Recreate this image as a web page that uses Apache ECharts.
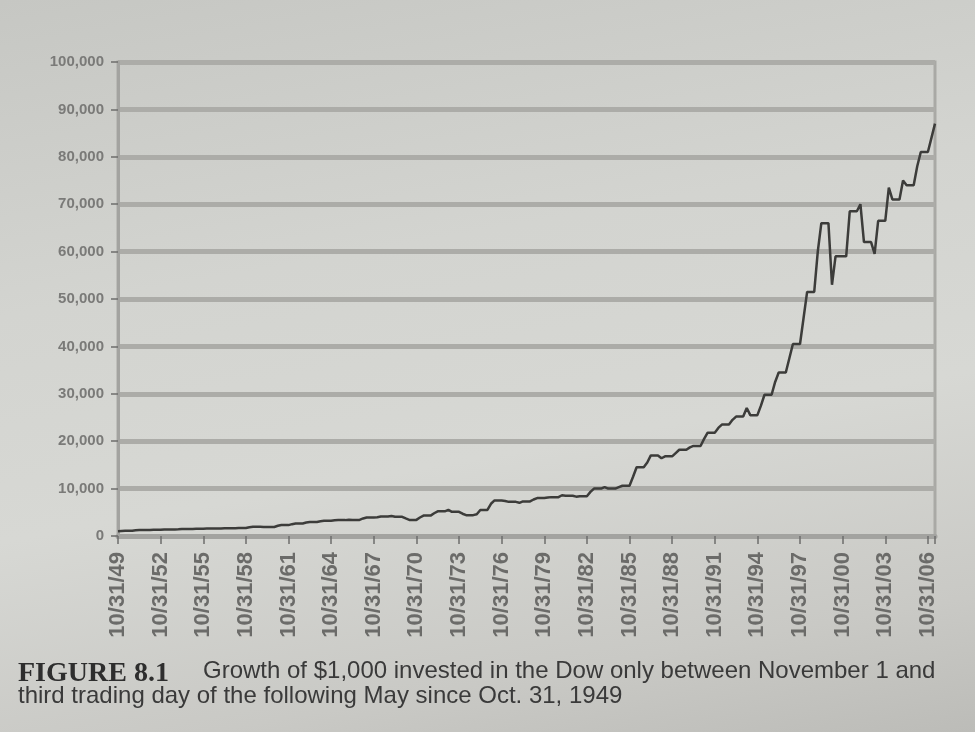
<!DOCTYPE html>
<html>
<head>
<meta charset="utf-8">
<script src="https://cdn.jsdelivr.net/npm/echarts@6/dist/echarts.min.js"></script>
<style>
html,body{margin:0;padding:0;}
body{width:975px;height:732px;background:linear-gradient(170deg,#c6c7c3 0%,#d3d4d0 35%,#d7d8d4 60%,#c9c9c5 85%,#bcbcb8 100%);}
#chart{width:975px;height:732px;}
</style>
</head>
<body>
<div id="chart"></div>
<script>
// Season k runs from Oct 31 of (1949+k) to the 3rd trading day of May (1950+k)
const startValue = 1000;
const seasonYears = [];
for (let y = 1949; y <= 2006; y++) seasonYears.push(y);
// value roughly mid-season (Feb)
const midValues = [1050,1200,1280,1380,1400,1500,1560,1580,1650,1850,
 1920,2150,2500,2850,3100,3300,3450,3700,3950,4200,
 3700,3900,4800,5500,4700,4600,6800,7400,7000,7700,
 8100,8600,8300,9300,10300,10300,12500,15500,16400,17500,
 18700,20500,22800,24500,27000,27500,32500,37500,46000,60000,
 53000,59000,70000,59500,73500,75000,78000,84000];
// value at the end of the season (May)
const endValues = [1100,1250,1300,1350,1480,1520,1600,1620,1700,1950,
 1900,2300,2650,2950,3200,3350,3400,3900,4100,4050,
 3400,4300,5200,5100,4400,5500,7500,7200,7300,8000,
 8200,8500,8400,10000,10000,10600,14500,17000,16800,18200,
 19000,21800,23500,25200,25500,29800,34500,40500,51500,66000,
 59000,68500,62000,66500,71000,74000,81000,87000];
const tickLabels = ['10/31/49','10/31/52','10/31/55','10/31/58','10/31/61','10/31/64','10/31/67','10/31/70','10/31/73','10/31/76',
 '10/31/79','10/31/82','10/31/85','10/31/88','10/31/91','10/31/94','10/31/97','10/31/00','10/31/03','10/31/06'];

// x = months since 10/31/49
const data = [];
let prev = startValue;
seasonYears.forEach((y, k) => {
  const m = k * 12;
  data.push([m, prev]);
  data.push([m + 3, midValues[k]]);
  data.push([m + 6, endValues[k]]);
  prev = endValues[k];
});

const chart = echarts.init(document.getElementById('chart'), null, {renderer: 'canvas'});
chart.setOption({
  animation: false,
  backgroundColor: 'transparent',
  grid: {left: 118, right: 40, top: 62, bottom: 196, show: true, borderColor: '#a9a9a5', borderWidth: 3, backgroundColor: 'transparent'},
  xAxis: {
    type: 'value', min: 0, max: 690, interval: 36,
    axisLine: {show: true, onZero: false, lineStyle: {color: '#a3a3a0', width: 5}},
    axisTick: {show: true, length: 8, lineStyle: {color: '#6e6e6c', width: 1.5}},
    splitLine: {show: false},
    axisLabel: {
      rotate: 90, margin: 16, color: '#6b6b69', fontSize: 22, fontWeight: 'bold',
      fontFamily: 'Liberation Sans Narrow, Liberation Sans, Arial, sans-serif',
      formatter: v => (v % 36 === 0 && tickLabels[v / 36]) ? tickLabels[v / 36] : ''
    }
  },
  yAxis: {
    type: 'value', min: 0, max: 100000, interval: 10000,
    axisLine: {show: true, lineStyle: {color: '#a3a3a0', width: 3}},
    axisTick: {show: true, length: 7, lineStyle: {color: '#6e6e6c', width: 1.5}},
    splitLine: {show: true, lineStyle: {color: '#acaca8', width: 5}},
    axisLabel: {
      margin: 14, color: '#7a7a78', fontSize: 15, fontWeight: 'bold',
      fontFamily: 'Liberation Sans, Arial, sans-serif',
      formatter: v => v.toLocaleString('en-US')
    }
  },
  series: [{
    type: 'line', data: data, showSymbol: false,
    lineStyle: {color: '#3c3c3a', width: 2.5},
    z: 5
  }],
  graphic: [
    {type: 'text', left: 18, top: 660, style: {
      text: 'FIGURE 8.1',
      fontFamily: 'Liberation Serif', fontWeight: 'bold', fontSize: 28, fill: '#2e2e2e'
    }},
    {type: 'text', left: 203, top: 659, style: {
      text: 'Growth of $1,000 invested in the Dow only between November 1 and',
      fontFamily: 'Liberation Sans', fontSize: 24, fill: '#3a3a3a'
    }},
    {type: 'text', left: 18, top: 684, style: {
      text: 'third trading day of the following May since Oct. 31, 1949',
      fontFamily: 'Liberation Sans', fontSize: 24, fill: '#3a3a3a'
    }}
  ]
});
</script>
</body>
</html>
